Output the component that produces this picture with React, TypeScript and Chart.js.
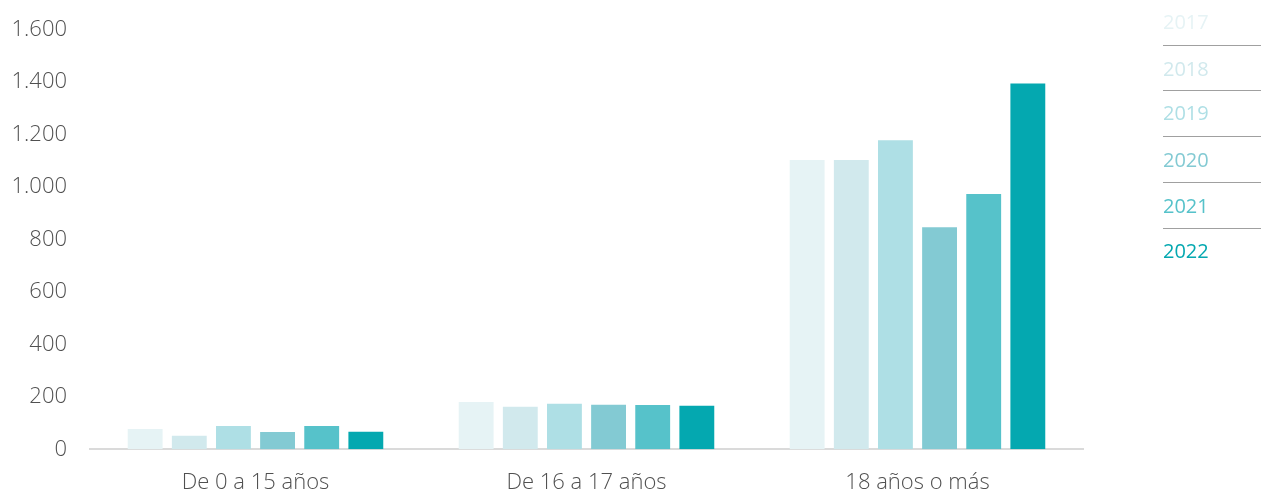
import React, { useEffect, useRef } from "react";
import { Chart, registerables } from "chart.js";

Chart.register(...registerables);

const categories = ["De 0 a 15 años", "De 16 a 17 años", "18 años o más"];
const years = ["2017", "2018", "2019", "2020", "2021", "2022"];
const colors = ["#e6f3f5", "#d1e9ed", "#aedfe5", "#83cad3", "#56c2ca", "#04a8b0"];
const v2017 = [77, 180, 1102];
const v2018 = [52, 162, 1102];
const v2019 = [89, 174, 1177];
const v2020 = [66, 170, 846];
const v2021 = [89, 169, 973];
const v2022 = [67, 166, 1394];
const seriesValues = [v2017, v2018, v2019, v2020, v2021, v2022];
const yTicks = [0, 200, 400, 600, 800, 1000, 1200, 1400, 1600];

const FONT = "'Open Sans', sans-serif";

function fmt(n: number): string {
  return String(n).replace(/\B(?=(\d{3})+(?!\d))/g, ".");
}

export default function App() {
  const ref = useRef<HTMLCanvasElement | null>(null);

  useEffect(() => {
    document.body.style.margin = "0";
    if (!ref.current) return;
    const chart = new Chart(ref.current, {
      type: "bar",
      data: {
        labels: categories,
        datasets: years.map((y, i) => ({
          label: y,
          data: seriesValues[i],
          backgroundColor: colors[i],
          borderWidth: 0,
          categoryPercentage: 0.8,
          barPercentage: 0.79,
        })),
      },
      options: {
        animation: false,
        responsive: false,
        maintainAspectRatio: false,
        layout: { padding: { top: 0, right: 178, bottom: 0, left: 0 } },
        plugins: { legend: { display: false }, tooltip: { enabled: false } },
        scales: {
          x: {
            grid: { display: false },
            border: { display: true, color: "#dadada", width: 2 },
            ticks: {
              color: "#505050",
              font: { family: FONT, size: 22, weight: 300 },
              padding: 12,
            },
            afterFit: (s: any) => {
              s.height = 43.7;
            },
          },
          y: {
            min: 0,
            max: 1600,
            afterBuildTicks: (s: any) => {
              s.ticks = yTicks.map((v) => ({ value: v }));
            },
            grid: { display: false, drawTicks: false },
            border: { display: false },
            ticks: {
              color: "#505050",
              font: { family: FONT, size: 22, weight: 300 },
              padding: 23,
              callback: (v: any) => fmt(Number(v)),
            },
            afterFit: (s: any) => {
              s.width = 90;
              s.paddingTop = 29.3;
            },
          },
        },
      },
    });
    return () => chart.destroy();
  }, []);

  const legendTops = [22, 69, 113, 160, 206, 251];
  return (
    <div style={{ position: "relative", width: 1261, height: 493 }}>
      <canvas ref={ref} width={1261} height={493} style={{ position: "absolute", left: 0, top: 0 }} />
      {years.map((y, i) => (
        <div
          key={y}
          style={{
            position: "absolute",
            left: 1163,
            top: legendTops[i] - 14,
            width: 98,
            height: 28,
            lineHeight: "28px",
            fontFamily: FONT,
            fontSize: 20,
            fontWeight: 400,
            color: colors[i],
          }}
        >
          {y}
        </div>
      ))}
      {years.slice(0, 5).map((y, i) => (
        <div
          key={"l" + y}
          style={{
            position: "absolute",
            left: 1163,
            top: (legendTops[i] + legendTops[i + 1]) / 2 - 1,
            width: 98,
            height: 0,
            borderTop: "1.5px solid #a0a0a0",
          }}
        />
      ))}
    </div>
  );
}
